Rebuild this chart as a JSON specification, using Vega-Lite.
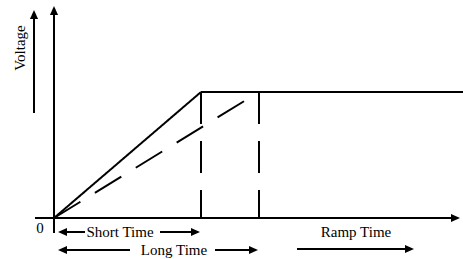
{
  "$schema": "https://vega.github.io/schema/vega-lite/v6.json",
  "width": 463,
  "height": 259,
  "padding": 0,
  "autosize": {"type": "none"},
  "background": "white",
  "config": {"view": {"stroke": null}},
  "datasets": {
    "segments": [
      {"x": 0, "y": -15, "x2": 0, "y2": 205, "style": "solid"},
      {"x": -19, "y": 0, "x2": 400, "y2": 0, "style": "solid"},
      {"x": -20, "y": 105, "x2": -20, "y2": 202, "style": "solid"},
      {"x": 0, "y": 0, "x2": 147, "y2": 126, "style": "solid"},
      {"x": 147, "y": 126, "x2": 410, "y2": 126, "style": "solid"},
      {"x": 0, "y": 0, "x2": 205, "y2": 126, "style": "diag"},
      {"x": 147, "y": 126, "x2": 147, "y2": 0, "style": "dashed"},
      {"x": 205, "y": 126, "x2": 205, "y2": 0, "style": "dashed"},
      {"x": 31, "y": -14, "x2": 8, "y2": -14, "style": "solid"},
      {"x": 106, "y": -14, "x2": 140, "y2": -14, "style": "solid"},
      {"x": 76, "y": -32, "x2": 8, "y2": -32, "style": "solid"},
      {"x": 161, "y": -32, "x2": 198, "y2": -32, "style": "solid"},
      {"x": 243, "y": -31, "x2": 353, "y2": -31, "style": "solid"}
    ],
    "heads": [
      {"x": 0, "y": 212, "dir": 270},
      {"x": -20, "y": 208, "dir": 270},
      {"x": 406, "y": 0, "dir": 0},
      {"x": 4, "y": -14, "dir": 180},
      {"x": 146, "y": -14, "dir": 0},
      {"x": 4, "y": -32, "dir": 180},
      {"x": 204, "y": -32, "dir": 0},
      {"x": 360, "y": -31, "dir": 0}
    ],
    "labels": [
      {"x": -29, "y": 170, "label": "Voltage", "rot": 270},
      {"x": -14, "y": -15, "label": "0", "rot": 0},
      {"x": 66, "y": -19, "label": "Short Time", "rot": 0},
      {"x": 120, "y": -37, "label": "Long Time", "rot": 0},
      {"x": 302, "y": -19, "label": "Ramp Time", "rot": 0}
    ]
  },
  "layer": [
    {
      "data": {"name": "segments"},
      "mark": {"type": "rule", "color": "black", "strokeWidth": 2},
      "encoding": {
        "x": {"field": "x", "type": "quantitative", "scale": {"domain": [-54, 409], "nice": false, "zero": false}, "axis": null},
        "y": {"field": "y", "type": "quantitative", "scale": {"domain": [-41, 218], "nice": false, "zero": false}, "axis": null},
        "x2": {"field": "x2"},
        "y2": {"field": "y2"},
        "strokeDash": {"field": "style", "type": "nominal", "scale": {"domain": ["solid", "dashed", "diag"], "range": [[1, 0], [32, 17], [31, 17]]}, "legend": null}
      }
    },
    {
      "data": {"name": "heads"},
      "mark": {"type": "point", "filled": true, "color": "black", "opacity": 1, "strokeWidth": 0, "shape": "M0,0L-1,-0.45L-1,0.45Z", "size": 324},
      "encoding": {
        "x": {"field": "x", "type": "quantitative", "scale": {"domain": [-54, 409], "nice": false, "zero": false}, "axis": null},
        "y": {"field": "y", "type": "quantitative", "scale": {"domain": [-41, 218], "nice": false, "zero": false}, "axis": null},
        "angle": {"field": "dir", "type": "quantitative", "scale": null}
      }
    },
    {
      "data": {"name": "labels"},
      "mark": {"type": "text", "font": "Liberation Serif", "fontSize": 15, "color": "black", "align": "center", "baseline": "alphabetic"},
      "encoding": {
        "x": {"field": "x", "type": "quantitative", "scale": {"domain": [-54, 409], "nice": false, "zero": false}, "axis": null},
        "y": {"field": "y", "type": "quantitative", "scale": {"domain": [-41, 218], "nice": false, "zero": false}, "axis": null},
        "text": {"field": "label"},
        "angle": {"field": "rot", "type": "quantitative", "scale": null}
      }
    }
  ]
}
